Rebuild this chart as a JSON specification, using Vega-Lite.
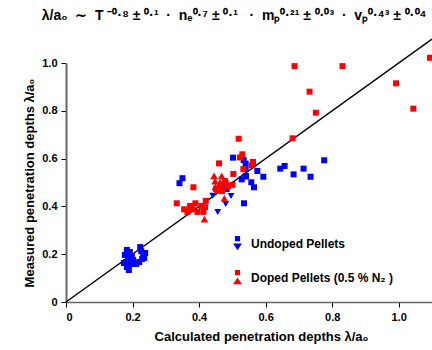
{
  "$schema": "https://vega.github.io/schema/vega-lite/v6.json",
  "width": 366,
  "height": 239,
  "autosize": {"type": "none"},
  "padding": {"left": 66, "top": 63, "right": 0, "bottom": 48},
  "background": "white",
  "config": {
    "font": "Liberation Sans",
    "view": {"stroke": null}
  },
  "title": {
    "text": "λ/a₀\u00a0\u00a0∼\u00a0\u00a0T\u00a0⁻⁰·⁸\u00a0±\u00a0⁰·¹\u00a0\u00a0·\u00a0\u00a0nₑ⁰·⁷\u00a0±\u00a0⁰·¹\u00a0\u00a0\u00a0·\u00a0\u00a0mₚ⁰·²¹\u00a0±\u00a0⁰·⁰³\u00a0\u00a0·\u00a0\u00a0vₚ⁰·⁴³\u00a0±\u00a0⁰·⁰⁴",
    "font": "Liberation Sans",
    "fontSize": 14,
    "fontWeight": "bold",
    "anchor": "start",
    "dx": 18,
    "offset": 13,
    "color": "black"
  },
  "datasets": {
    "pts": [
      {"x": 0.177, "y": 0.197, "group": "Undoped Pellets", "marker": "square"},
      {"x": 0.180, "y": 0.167, "group": "Undoped Pellets", "marker": "square"},
      {"x": 0.183, "y": 0.146, "group": "Undoped Pellets", "marker": "square"},
      {"x": 0.186, "y": 0.184, "group": "Undoped Pellets", "marker": "square"},
      {"x": 0.192, "y": 0.209, "group": "Undoped Pellets", "marker": "square"},
      {"x": 0.195, "y": 0.159, "group": "Undoped Pellets", "marker": "square"},
      {"x": 0.202, "y": 0.176, "group": "Undoped Pellets", "marker": "square"},
      {"x": 0.174, "y": 0.163, "group": "Undoped Pellets", "marker": "square"},
      {"x": 0.189, "y": 0.134, "group": "Undoped Pellets", "marker": "square"},
      {"x": 0.183, "y": 0.218, "group": "Undoped Pellets", "marker": "square"},
      {"x": 0.198, "y": 0.192, "group": "Undoped Pellets", "marker": "square"},
      {"x": 0.211, "y": 0.159, "group": "Undoped Pellets", "marker": "square"},
      {"x": 0.223, "y": 0.230, "group": "Undoped Pellets", "marker": "square"},
      {"x": 0.226, "y": 0.213, "group": "Undoped Pellets", "marker": "square"},
      {"x": 0.232, "y": 0.197, "group": "Undoped Pellets", "marker": "square"},
      {"x": 0.229, "y": 0.180, "group": "Undoped Pellets", "marker": "square"},
      {"x": 0.220, "y": 0.167, "group": "Undoped Pellets", "marker": "square"},
      {"x": 0.238, "y": 0.205, "group": "Undoped Pellets", "marker": "square"},
      {"x": 0.235, "y": 0.184, "group": "Undoped Pellets", "marker": "square"},
      {"x": 0.350, "y": 0.518, "group": "Undoped Pellets", "marker": "square"},
      {"x": 0.341, "y": 0.497, "group": "Undoped Pellets", "marker": "square"},
      {"x": 0.483, "y": 0.473, "group": "Undoped Pellets", "marker": "square"},
      {"x": 0.502, "y": 0.604, "group": "Undoped Pellets", "marker": "square"},
      {"x": 0.534, "y": 0.594, "group": "Undoped Pellets", "marker": "square"},
      {"x": 0.540, "y": 0.579, "group": "Undoped Pellets", "marker": "square"},
      {"x": 0.540, "y": 0.556, "group": "Undoped Pellets", "marker": "square"},
      {"x": 0.540, "y": 0.525, "group": "Undoped Pellets", "marker": "square"},
      {"x": 0.528, "y": 0.513, "group": "Undoped Pellets", "marker": "square"},
      {"x": 0.557, "y": 0.501, "group": "Undoped Pellets", "marker": "square"},
      {"x": 0.565, "y": 0.480, "group": "Undoped Pellets", "marker": "square"},
      {"x": 0.575, "y": 0.548, "group": "Undoped Pellets", "marker": "square"},
      {"x": 0.535, "y": 0.413, "group": "Undoped Pellets", "marker": "square"},
      {"x": 0.593, "y": 0.524, "group": "Undoped Pellets", "marker": "square"},
      {"x": 0.644, "y": 0.558, "group": "Undoped Pellets", "marker": "square"},
      {"x": 0.657, "y": 0.569, "group": "Undoped Pellets", "marker": "square"},
      {"x": 0.684, "y": 0.534, "group": "Undoped Pellets", "marker": "square"},
      {"x": 0.714, "y": 0.558, "group": "Undoped Pellets", "marker": "square"},
      {"x": 0.735, "y": 0.524, "group": "Undoped Pellets", "marker": "square"},
      {"x": 0.776, "y": 0.593, "group": "Undoped Pellets", "marker": "square"},
      {"x": 0.541, "y": 0.527, "group": "Undoped Pellets", "marker": "square"},
      {"x": 0.441, "y": 0.445, "group": "Undoped Pellets", "marker": "triangle-down"},
      {"x": 0.496, "y": 0.444, "group": "Undoped Pellets", "marker": "triangle-down"},
      {"x": 0.480, "y": 0.410, "group": "Undoped Pellets", "marker": "triangle-down"},
      {"x": 0.456, "y": 0.377, "group": "Undoped Pellets", "marker": "triangle-down"},
      {"x": 0.333, "y": 0.413, "group": "Doped Pellets (0.5 % N₂ )", "marker": "square"},
      {"x": 0.355, "y": 0.388, "group": "Doped Pellets (0.5 % N₂ )", "marker": "square"},
      {"x": 0.365, "y": 0.377, "group": "Doped Pellets (0.5 % N₂ )", "marker": "square"},
      {"x": 0.373, "y": 0.402, "group": "Doped Pellets (0.5 % N₂ )", "marker": "square"},
      {"x": 0.381, "y": 0.388, "group": "Doped Pellets (0.5 % N₂ )", "marker": "square"},
      {"x": 0.389, "y": 0.413, "group": "Doped Pellets (0.5 % N₂ )", "marker": "square"},
      {"x": 0.395, "y": 0.377, "group": "Doped Pellets (0.5 % N₂ )", "marker": "square"},
      {"x": 0.407, "y": 0.402, "group": "Doped Pellets (0.5 % N₂ )", "marker": "square"},
      {"x": 0.413, "y": 0.377, "group": "Doped Pellets (0.5 % N₂ )", "marker": "square"},
      {"x": 0.420, "y": 0.423, "group": "Doped Pellets (0.5 % N₂ )", "marker": "square"},
      {"x": 0.418, "y": 0.397, "group": "Doped Pellets (0.5 % N₂ )", "marker": "square"},
      {"x": 0.383, "y": 0.480, "group": "Doped Pellets (0.5 % N₂ )", "marker": "square"},
      {"x": 0.460, "y": 0.580, "group": "Doped Pellets (0.5 % N₂ )", "marker": "square"},
      {"x": 0.503, "y": 0.536, "group": "Doped Pellets (0.5 % N₂ )", "marker": "square"},
      {"x": 0.519, "y": 0.683, "group": "Doped Pellets (0.5 % N₂ )", "marker": "square"},
      {"x": 0.523, "y": 0.605, "group": "Doped Pellets (0.5 % N₂ )", "marker": "square"},
      {"x": 0.530, "y": 0.618, "group": "Doped Pellets (0.5 % N₂ )", "marker": "square"},
      {"x": 0.562, "y": 0.586, "group": "Doped Pellets (0.5 % N₂ )", "marker": "square"},
      {"x": 0.559, "y": 0.572, "group": "Doped Pellets (0.5 % N₂ )", "marker": "square"},
      {"x": 0.500, "y": 0.490, "group": "Doped Pellets (0.5 % N₂ )", "marker": "square"},
      {"x": 0.480, "y": 0.497, "group": "Doped Pellets (0.5 % N₂ )", "marker": "square"},
      {"x": 0.533, "y": 0.556, "group": "Doped Pellets (0.5 % N₂ )", "marker": "square"},
      {"x": 0.478, "y": 0.506, "group": "Doped Pellets (0.5 % N₂ )", "marker": "square"},
      {"x": 0.463, "y": 0.481, "group": "Doped Pellets (0.5 % N₂ )", "marker": "square"},
      {"x": 0.451, "y": 0.473, "group": "Doped Pellets (0.5 % N₂ )", "marker": "square"},
      {"x": 0.469, "y": 0.464, "group": "Doped Pellets (0.5 % N₂ )", "marker": "square"},
      {"x": 0.487, "y": 0.485, "group": "Doped Pellets (0.5 % N₂ )", "marker": "square"},
      {"x": 0.687, "y": 0.987, "group": "Doped Pellets (0.5 % N₂ )", "marker": "square"},
      {"x": 0.831, "y": 0.987, "group": "Doped Pellets (0.5 % N₂ )", "marker": "square"},
      {"x": 0.732, "y": 0.880, "group": "Doped Pellets (0.5 % N₂ )", "marker": "square"},
      {"x": 0.751, "y": 0.792, "group": "Doped Pellets (0.5 % N₂ )", "marker": "square"},
      {"x": 0.681, "y": 0.685, "group": "Doped Pellets (0.5 % N₂ )", "marker": "square"},
      {"x": 0.992, "y": 0.915, "group": "Doped Pellets (0.5 % N₂ )", "marker": "square"},
      {"x": 1.044, "y": 0.809, "group": "Doped Pellets (0.5 % N₂ )", "marker": "square"},
      {"x": 1.094, "y": 1.022, "group": "Doped Pellets (0.5 % N₂ )", "marker": "square"},
      {"x": 0.445, "y": 0.528, "group": "Doped Pellets (0.5 % N₂ )", "marker": "triangle-up"},
      {"x": 0.468, "y": 0.528, "group": "Doped Pellets (0.5 % N₂ )", "marker": "triangle-up"},
      {"x": 0.448, "y": 0.506, "group": "Doped Pellets (0.5 % N₂ )", "marker": "triangle-up"},
      {"x": 0.463, "y": 0.502, "group": "Doped Pellets (0.5 % N₂ )", "marker": "triangle-up"},
      {"x": 0.449, "y": 0.482, "group": "Doped Pellets (0.5 % N₂ )", "marker": "triangle-up"},
      {"x": 0.469, "y": 0.485, "group": "Doped Pellets (0.5 % N₂ )", "marker": "triangle-up"},
      {"x": 0.476, "y": 0.434, "group": "Doped Pellets (0.5 % N₂ )", "marker": "triangle-up"},
      {"x": 0.416, "y": 0.347, "group": "Doped Pellets (0.5 % N₂ )", "marker": "triangle-up"},
      {"x": 0.457, "y": 0.469, "group": "Doped Pellets (0.5 % N₂ )", "marker": "triangle-up"}
    ],
    "diag": [{"x": 0, "y": 0}, {"x": 1.1, "y": 1.1}],
    "groups": [{"group": "Undoped Pellets"}, {"group": "Doped Pellets (0.5 % N₂ )"}]
  },
  "resolve": {"scale": {"color": "independent", "shape": "independent"}},
  "layer": [
    {
      "data": {"name": "diag"},
      "mark": {"type": "line", "color": "black", "strokeWidth": 1.5},
      "encoding": {
        "x": {
          "field": "x", "type": "quantitative",
          "scale": {"domain": [0, 1.1], "nice": false},
          "axis": {
            "values": [0, 0.1, 0.2, 0.3, 0.4, 0.5, 0.6, 0.7, 0.8, 0.9, 1.0],
            "labelExpr": "datum.value == 0 ? '0' : (round(datum.value * 10) % 2 == 0 ? format(datum.value, '.1f') : '')",
            "tickSize": {"condition": {"test": "round(datum.value * 10) % 2 == 0", "value": 5}, "value": 3},
            "grid": false,
            "domainColor": "#666",
            "domainWidth": 1.5,
            "tickColor": "black",
            "labelFont": "Liberation Sans",
            "labelFontWeight": "bold",
            "labelFontSize": 11,
            "labelColor": "black",
            "labelPadding": 4,
            "title": "Calculated penetration depths λ/a₀",
            "titleFont": "Liberation Sans",
            "titleFontWeight": "bold",
            "titleFontSize": 13,
            "titleColor": "black",
            "titleX": 195,
            "titlePadding": 8
          }
        },
        "y": {
          "field": "y", "type": "quantitative",
          "scale": {"domain": [0, 1.0], "nice": false},
          "axis": {
            "values": [0, 0.1, 0.2, 0.3, 0.4, 0.5, 0.6, 0.7, 0.8, 0.9, 1.0],
            "labelExpr": "datum.value == 0 ? '0' : (round(datum.value * 10) % 2 == 0 ? format(datum.value, '.1f') : '')",
            "tickSize": {"condition": {"test": "round(datum.value * 10) % 2 == 0", "value": 5}, "value": 3},
            "grid": false,
            "domainColor": "#666",
            "domainWidth": 2,
            "tickColor": "black",
            "labelFont": "Liberation Sans",
            "labelFontWeight": "bold",
            "labelFontSize": 11,
            "labelColor": "black",
            "labelPadding": 4,
            "title": "Measured penetration depths λ/a₀",
            "titleFont": "Liberation Sans",
            "titleFontWeight": "bold",
            "titleFontSize": 13,
            "titleColor": "black",
            "titlePadding": 5
          }
        }
      }
    },
    {
      "data": {"name": "pts"},
      "mark": {"type": "point", "filled": true, "opacity": 1},
      "encoding": {
        "x": {"field": "x", "type": "quantitative"},
        "y": {"field": "y", "type": "quantitative"},
        "color": {
          "field": "group", "type": "nominal",
          "scale": {"domain": ["Undoped Pellets", "Doped Pellets (0.5 % N₂ )"], "range": ["#0000ff", "#ff0000"]},
          "legend": null
        },
        "shape": {
          "field": "marker", "type": "nominal",
          "scale": {"domain": ["square", "triangle-down", "triangle-up"], "range": ["square", "triangle-down", "triangle-up"]},
          "legend": null
        },
        "size": {
          "field": "marker", "type": "nominal",
          "scale": {"domain": ["square", "triangle-down", "triangle-up"], "range": [36, 60, 60]},
          "legend": null
        }
      }
    },
    {
      "data": {"name": "groups"},
      "transform": [{"filter": "false"}],
      "mark": {"type": "point", "filled": true, "opacity": 1},
      "encoding": {
        "color": {
          "field": "group", "type": "nominal",
          "scale": {"domain": ["Undoped Pellets", "Doped Pellets (0.5 % N₂ )"], "range": ["#0000ff", "#ff0000"]},
          "legend": {
            "title": null,
            "orient": "none",
            "legendX": 164,
            "legendY": 173,
            "symbolSize": 220,
            "symbolStrokeWidth": 0,
            "labelFont": "Liberation Sans",
            "labelFontWeight": "bold",
            "labelFontSize": 12,
            "labelColor": "black",
            "labelOffset": 6,
            "rowPadding": 19,
            "padding": 0
          }
        },
        "shape": {
          "field": "group", "type": "nominal",
          "scale": {
            "domain": ["Undoped Pellets", "Doped Pellets (0.5 % N₂ )"],
            "range": [
              "M-0.35,-1L0.35,-1L0.35,-0.3L-0.35,-0.3Z M-0.6,0L0.6,0L0,0.9Z",
              "M-0.35,-1L0.35,-1L0.35,-0.3L-0.35,-0.3Z M0,0L0.6,0.9L-0.6,0.9Z"
            ]
          },
          "legend": {
            "title": null,
            "orient": "none",
            "legendX": 164,
            "legendY": 173,
            "symbolSize": 220,
            "symbolStrokeWidth": 0,
            "labelFont": "Liberation Sans",
            "labelFontWeight": "bold",
            "labelFontSize": 12,
            "labelColor": "black",
            "labelOffset": 6,
            "rowPadding": 19,
            "padding": 0
          }
        }
      }
    }
  ]
}
